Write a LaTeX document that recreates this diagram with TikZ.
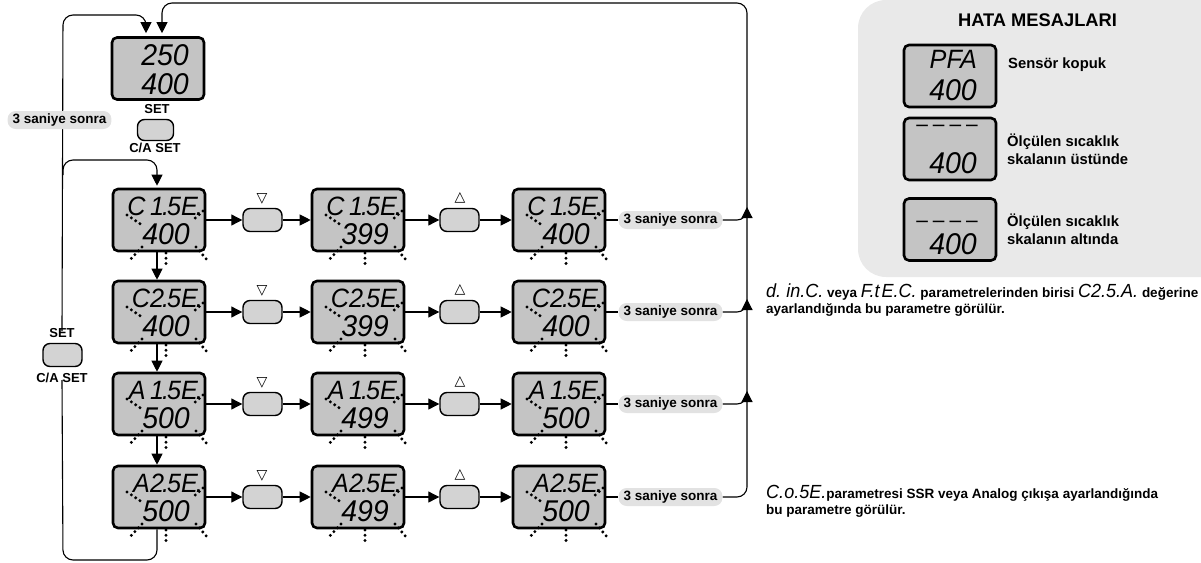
\documentclass[tikz,border=0pt]{standalone}
\usepackage{fontspec}
\setmainfont{Liberation Sans}
\newfontfamily\segfont{Liberation Sans}[FakeStretch=0.95]
\newfontfamily\symfont{DejaVu Sans}
\usetikzlibrary{arrows.meta}
\pgfdeclarelayer{bg}
\pgfsetlayers{bg,main}
\definecolor{dispgray}{HTML}{C4C4C4}
\definecolor{btngray}{HTML}{D3D3D3}
\definecolor{pillgray}{HTML}{E2E2E2}
\definecolor{boxgray}{HTML}{E9E9E9}
\newcommand\dt{\kern-2pt.\kern-2pt}
\newcommand\sg[1]{{\segfont\itshape\mdseries\fontsize{19}{16}\selectfont #1}}
\newcommand\dashes{–\kern5pt–\kern5pt–\kern5pt–}
\tikzset{
 disp/.style={draw, line width=2.6pt, rounded corners=5pt, fill=dispgray, minimum width=92pt, minimum height=62pt, inner sep=0pt},
 btn/.style={draw, line width=1.4pt, rounded corners=7pt, fill=btngray, minimum width=39pt, minimum height=23pt, inner sep=0pt},
 pill/.style={fill=pillgray, rounded corners=8pt, font=\bfseries\fontsize{13.5}{15}\selectfont, inner xsep=5pt, inner ysep=0pt, minimum height=18pt},
 seg/.style={inner sep=0pt, font=\segfont\itshape\fontsize{30}{30}\selectfont},
 segs/.style={inner sep=0pt, font=\segfont\itshape\fontsize{26.5}{27}\selectfont},
 segd/.style={inner sep=0pt, font=\segfont\fontsize{22}{22}\selectfont},
 lbl/.style={inner sep=0pt, font=\bfseries\fontsize{13}{15}\selectfont},
 conn/.style={line width=1.1pt},
 arr/.style={conn, -{Triangle[length=11pt,width=11pt]}},
 ray/.style={line width=3.3pt, line cap=round, dash pattern=on 0pt off 5.2pt},
 tri/.style={inner sep=0pt, font=\symfont\fontsize{14}{14}\selectfont},
 note/.style={inner sep=0pt, anchor=base west, font=\bfseries\fontsize{13.5}{16}\selectfont},
 errtxt/.style={inner sep=0pt, anchor=base west, font=\bfseries\fontsize{14.8}{16}\selectfont},
}
\begin{document}
\begin{tikzpicture}[x=1pt,y=-1pt]
\useasboundingbox (0,0) rectangle (1201,562);
% error message box
\fill[boxgray, rounded corners=28pt] (858,0) rectangle (1240,277);
\node[inner sep=0pt, anchor=base, font=\bfseries\fontsize{18.3}{20}\selectfont] (hata) at (1037.5,27) {HATA MESAJLARI};
\node[disp] (e1) at (950,76) {};
\node[segs, anchor=base east] (e1a) at ([shift={(27,-8)}]e1.center) {PFA};
\node[seg, anchor=base east] (e1b) at ([shift={(27,24)}]e1.center) {400};
\node[disp] (e2) at (950,149) {};
\node[segd, anchor=base east] (e2a) at ([shift={(28,-18)}]e2.center) {\dashes};
\node[seg, anchor=base east] (e2b) at ([shift={(27,24)}]e2.center) {400};
\node[disp] (e3) at (950,229.5) {};
\node[segd, anchor=base east] (e3a) at ([shift={(28,-2.5)}]e3.center) {\dashes};
\node[seg, anchor=base east] (e3b) at ([shift={(27,25)}]e3.center) {400};
\node[errtxt] (m1) at (1008,68.3) {Sensör kopuk};
\node[errtxt] (m2a) at (1007,146.7) {Ölçülen sıcaklık};
\node[errtxt] (m2b) at (1007,164) {skalanın üstünde};
\node[errtxt] (m3a) at (1007,226.7) {Ölçülen sıcaklık};
\node[errtxt] (m3b) at (1007,244) {skalanın altında};
% top display
\node[disp] (dtop) at (158,68.5) {};
\node[seg, anchor=base east] (dtopa) at ([shift={(31,-3)}]dtop.center) {250};
\node[seg, anchor=base east] (dtopb) at ([shift={(31,26)}]dtop.center) {400};
\node[lbl] (setT) at (157,109) {SET};
\node[btn, minimum width=36pt, minimum height=21pt] (btnT) at (155.5,130) {};
\node[lbl] (caT) at (155,148) {C/A SET};
% left controls
\node[pill] (pl) at (59.5,120) {3 saniye sonra};
\node[lbl] (setS) at (62,333) {SET};
\node[btn] (btnS) at (62.5,355) {};
\node[lbl] (setC) at (62,378) {C/A SET};
% rows
\foreach \r/\ry/\tp/\va/\vb in {1/220/{C\,1\dt5E\dt}/400/399, 2/312/{C2\dt5E\dt}/400/399, 3/404/{A\,1\dt5E\dt}/500/499, 4/497/{A2\dt5E\dt}/500/499}{
 \node[disp] (da\r) at (159,\ry) {};
 \node[disp] (db\r) at (358,\ry) {};
 \node[disp] (dc\r) at (559,\ry) {};
 \node[segs, anchor=base east] (ta\r) at ([shift={(42,-5)}]da\r.center) {\tp};
 \node[segs, anchor=base east] (tb\r) at ([shift={(42,-5)}]db\r.center) {\tp};
 \node[segs, anchor=base east] (tc\r) at ([shift={(42,-5)}]dc\r.center) {\tp};
 \node[seg, anchor=base east] (ua\r) at ([shift={(31,24)}]da\r.center) {\va};
 \node[seg, anchor=base east] (ub\r) at ([shift={(31,24)}]db\r.center) {\vb};
 \node[seg, anchor=base east] (uc\r) at ([shift={(31,24)}]dc\r.center) {\va};
 \foreach \d in {da\r,db\r,dc\r}{
  \draw[ray] ([shift={(-32,-5)}]\d.center) -- ([shift={(-17,5)}]\d.center);
  \draw[ray] ([shift={(44,-9)}]\d.center) -- ([shift={(34,0)}]\d.center);
  \draw[ray] ([shift={(-17,27)}]\d.center) -- ([shift={(-31,42)}]\d.center);
  \draw[ray] ([shift={(7,33)}]\d.center) -- ([shift={(7,44)}]\d.center);
  \draw[ray] ([shift={(37,27)}]\d.center) -- ([shift={(49,41)}]\d.center);
 }
 \node[btn] (ba\r) at (262.5,\ry) {};
 \node[btn] (bb\r) at (459.5,\ry) {};
 \node[tri] (sa\r) at (262,\ry-21) {▽};
 \node[tri] (sb\r) at (460,\ry-22) {△};
 \node[pill] (p\r) at (670.5,\ry) {3 saniye sonra};
 \begin{pgfonlayer}{bg}
  \draw[arr] (da\r) -- (ba\r);
  \draw[arr] (ba\r) -- (db\r);
  \draw[arr] (db\r) -- (bb\r);
  \draw[arr] (bb\r) -- (dc\r);
  \draw[conn] (dc\r) -- (p\r);
 \end{pgfonlayer}
}
\begin{pgfonlayer}{bg}
 % down arrows between rows
 \draw[arr] ([xshift=-2pt]da1.south) -- ([xshift=-2pt]da2.north);
 \draw[arr] ([xshift=-2pt]da2.south) -- ([xshift=-2pt]da3.north);
 \draw[arr] ([xshift=-2pt]da3.south) -- ([xshift=-2pt]da4.north);
 % left loops
 \draw[conn, rounded corners=10pt] ([xshift=-2pt]da4.south) -- (157,560) -- (63,560) -- ([yshift=3pt]setC.south);
 \draw[arr, rounded corners=10pt] ([yshift=-3pt]setS.north) -- (63,15) -- (146,15) -- ([shift={(-12,-3)}]dtop.north);
 \draw[arr, rounded corners=10pt] (63,175) -- (63,160) -- (157,160) -- ([shift={(-2,-2)}]da1.north);
 % right loops
 \draw[arr, rounded corners=10pt] (p1.east) -- (747,220) -- (747,3) -- (162,3) -- ([shift={(4,-3)}]dtop.north);
 \draw[arr, rounded corners=10pt] (p2.east) -- (747,312) -- (747,207);
 \draw[arr, rounded corners=10pt] (p3.east) -- (747,404) -- (747,299);
 \draw[arr, rounded corners=10pt] (p4.east) -- (747,497) -- (747,391);
\end{pgfonlayer}
% notes
\node[note] (n1a) at (766,297) {\sg{d.\kern5pt in.C.} veya \sg{F.t\kern2pt E.C.} parametrelerinden birisi \sg{C2.5.A.} değerine};
\node[note] (n1b) at (766,313) {ayarlandığında bu parametre görülür.};
\node[note] (n2a) at (766,498) {\sg{C.o.5E.}parametresi SSR veya Analog çıkışa ayarlandığında};
\node[note] (n2b) at (766,514) {bu parametre görülür.};
\end{tikzpicture}
\end{document}
